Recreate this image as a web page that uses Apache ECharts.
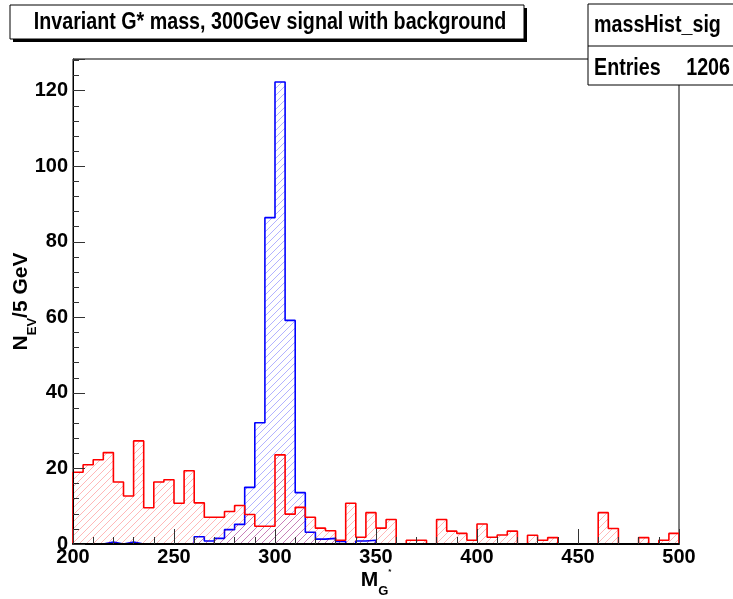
<!DOCTYPE html>
<html>
<head>
<meta charset="utf-8">
<script src="https://cdn.jsdelivr.net/npm/echarts@6/dist/echarts.min.js"></script>
<style>
html,body{margin:0;padding:0;background:#fff;}
#c{width:733px;height:599px;}
</style>
</head>
<body>
<div id="c"></div>
<script>
// ---- data ----
const binLowEdges = [200,205,210,215,220,225,230,235,240,245,250,255,260,265,270,275,280,285,290,295,
  300,305,310,315,320,325,330,335,340,345,350,355,360,365,370,375,380,385,390,395,
  400,405,410,415,420,425,430,435,440,445,450,455,460,465,470,475,480,485,490,495];
const xMax = 500;
const bkgCounts = [19,21,22.3,24.2,16.4,12.7,27.3,9.6,16.4,17,10.8,19.4,10.9,7.1,7.1,8.6,10.2,7.8,4.7,4.7,
  23.6,7.9,9.7,7.1,4.2,3.5,1.0,10.8,1.8,8.3,4.2,6.5,0,1.0,1.0,0,6.5,3.4,2.8,1.0,
  5.3,1.8,2.4,3.4,0,2.3,1.0,1.7,0,0,0,0,8.3,4.1,0,0,1.7,0,1.0,2.8];
const sigCounts = [0,0,0,0.5,0,0.5,0,0,0,0,0,0,1.9,0.8,1.5,3.8,5.2,15,32.1,86.4,
  122.3,59.2,13.6,3.1,1.3,1.5,0.7,0,0.8,1.0,0,0,0,0,0,0,0,0,0,0,
  0,0,0,0,0,0,0,0,0,0,0,0,0,0,0,0,0,0,0,0];
const xTicks = [200,250,300,350,400,450,500];
const yTicks = [0,20,40,60,80,100,120];
const titleText = 'Invariant G* mass, 300Gev signal with background';
const statsName = 'massHist_sig';
const statsEntriesLabel = 'Entries';
const statsEntries = '1206';

// ---- helpers ----
const FONT = "'Liberation Sans',Arial,sans-serif";
function hatch(color){
  const n = 7;
  const c = document.createElement('canvas');
  c.width = n; c.height = n;
  const g = c.getContext('2d');
  g.strokeStyle = color; g.lineWidth = 1;
  g.beginPath();
  g.moveTo(0,n); g.lineTo(n,0);
  g.moveTo(-1,1); g.lineTo(1,-1);
  g.moveTo(n-1,n+1); g.lineTo(n+1,n-1);
  g.stroke();
  return c;
}
function histPoints(counts){
  const pts = [[binLowEdges[0],0]];
  for(let i=0;i<counts.length;i++) pts.push([binLowEdges[i],counts[i]]);
  pts.push([xMax,counts[counts.length-1]]);
  pts.push([xMax,0]);
  return pts;
}

const chart = echarts.init(document.getElementById('c'), null, {renderer:'canvas'});
const labelStyle = {fontFamily:FONT, fontWeight:'bold', fontSize:20, color:'#000'};
const SX = 0.82;
chart.setOption({
  animation:false,
  backgroundColor:'#fff',
  grid:{left:73,right:54,top:59,bottom:55,containLabel:false,outerBoundsMode:'none',
        show:true,borderColor:'#000',borderWidth:1,backgroundColor:'#fff'},
  xAxis:{
    type:'value',min:200,max:500,interval:50,z:5,
    axisLine:{show:true,onZero:false,lineStyle:{color:'#000',width:2}},
    axisTick:{show:true,inside:true,length:15,lineStyle:{color:'#333',width:1}},
    minorTick:{show:true,splitNumber:5,length:7,lineStyle:{color:'#333',width:1}},
    splitLine:{show:false},
    axisLabel:Object.assign({margin:3,formatter:v=>xTicks.includes(v)?String(v):''},labelStyle),
    name:'{b|M}{s|G}{p|*}',nameLocation:'middle',nameGap:24,nameMoveOverlap:false,
    nameTextStyle:{rich:{
      b:{fontFamily:FONT,fontWeight:'bold',fontSize:21,lineHeight:24,color:'#000'},
      s:{fontFamily:FONT,fontWeight:'bold',fontSize:13,lineHeight:13,verticalAlign:'bottom',padding:[0,0,-6,0],color:'#000'},
      p:{fontFamily:FONT,fontWeight:'bold',fontSize:8,lineHeight:8,verticalAlign:'top',color:'#000'}
    }}
  },
  yAxis:{
    type:'value',min:0,max:128.4,interval:20,z:5,
    axisLine:{show:true,lineStyle:{color:'#000',width:1}},
    axisTick:{show:true,inside:true,length:12,lineStyle:{color:'#333',width:1}},
    minorTick:{show:true,splitNumber:5,length:6,lineStyle:{color:'#333',width:1}},
    splitLine:{show:false},
    axisLabel:Object.assign({margin:5,showMaxLabel:false,formatter:v=>yTicks.includes(v)?String(v):''},labelStyle),
    name:'{b|N}{s|EV}{b|/5 GeV}',nameLocation:'middle',nameGap:40,nameRotate:90,nameMoveOverlap:false,
    nameTextStyle:{rich:{
      b:{fontFamily:FONT,fontWeight:'bold',fontSize:21,lineHeight:24,color:'#000'},
      s:{fontFamily:FONT,fontWeight:'bold',fontSize:13,lineHeight:13,verticalAlign:'bottom',padding:[0,0,-6,0],color:'#000'}
    }}
  },
  series:[
    {type:'line',name:'sig',step:'end',showSymbol:false,z:2,
     data:histPoints(sigCounts),
     lineStyle:{color:'#0000ff',width:1.6},
     areaStyle:{color:{image:hatch('rgba(0,0,255,0.3)'),repeat:'repeat'},opacity:1}},
    {type:'line',name:'bkg',step:'end',showSymbol:false,z:3,
     data:histPoints(bkgCounts),
     lineStyle:{color:'#ff0000',width:1.6},
     areaStyle:{color:{image:hatch('rgba(255,0,0,0.28)'),repeat:'repeat'},opacity:1}}
  ],
  graphic:[
    {type:'rect',shape:{x:13,y:8,width:514,height:34},style:{fill:'#000'},z:10},
    {type:'rect',shape:{x:10,y:5,width:514,height:34},style:{fill:'#fff',stroke:'#000',lineWidth:1},z:11},
    {type:'text',x:270,y:22,scaleX:SX,z:12,style:{text:titleText,fontFamily:FONT,fontWeight:'bold',fontSize:24,fill:'#000',align:'center',verticalAlign:'middle'}},
    {type:'rect',shape:{x:588,y:4,width:150,height:81},style:{fill:'#fff',stroke:'#000',lineWidth:1},z:11},
    {type:'line',shape:{x1:588,y1:46,x2:740,y2:46},style:{stroke:'#000',lineWidth:1},z:12},
    {type:'text',x:594,y:25,scaleX:SX,z:12,style:{text:statsName,fontFamily:FONT,fontWeight:'bold',fontSize:24,fill:'#000',align:'left',verticalAlign:'middle'}},
    {type:'text',x:594,y:68,scaleX:SX,z:12,style:{text:statsEntriesLabel,fontFamily:FONT,fontWeight:'bold',fontSize:24,fill:'#000',align:'left',verticalAlign:'middle'}},
    {type:'text',x:730,y:68,scaleX:SX,z:12,style:{text:statsEntries,fontFamily:FONT,fontWeight:'bold',fontSize:24,fill:'#000',align:'right',verticalAlign:'middle'}}
  ]
});
</script>
</body>
</html>
